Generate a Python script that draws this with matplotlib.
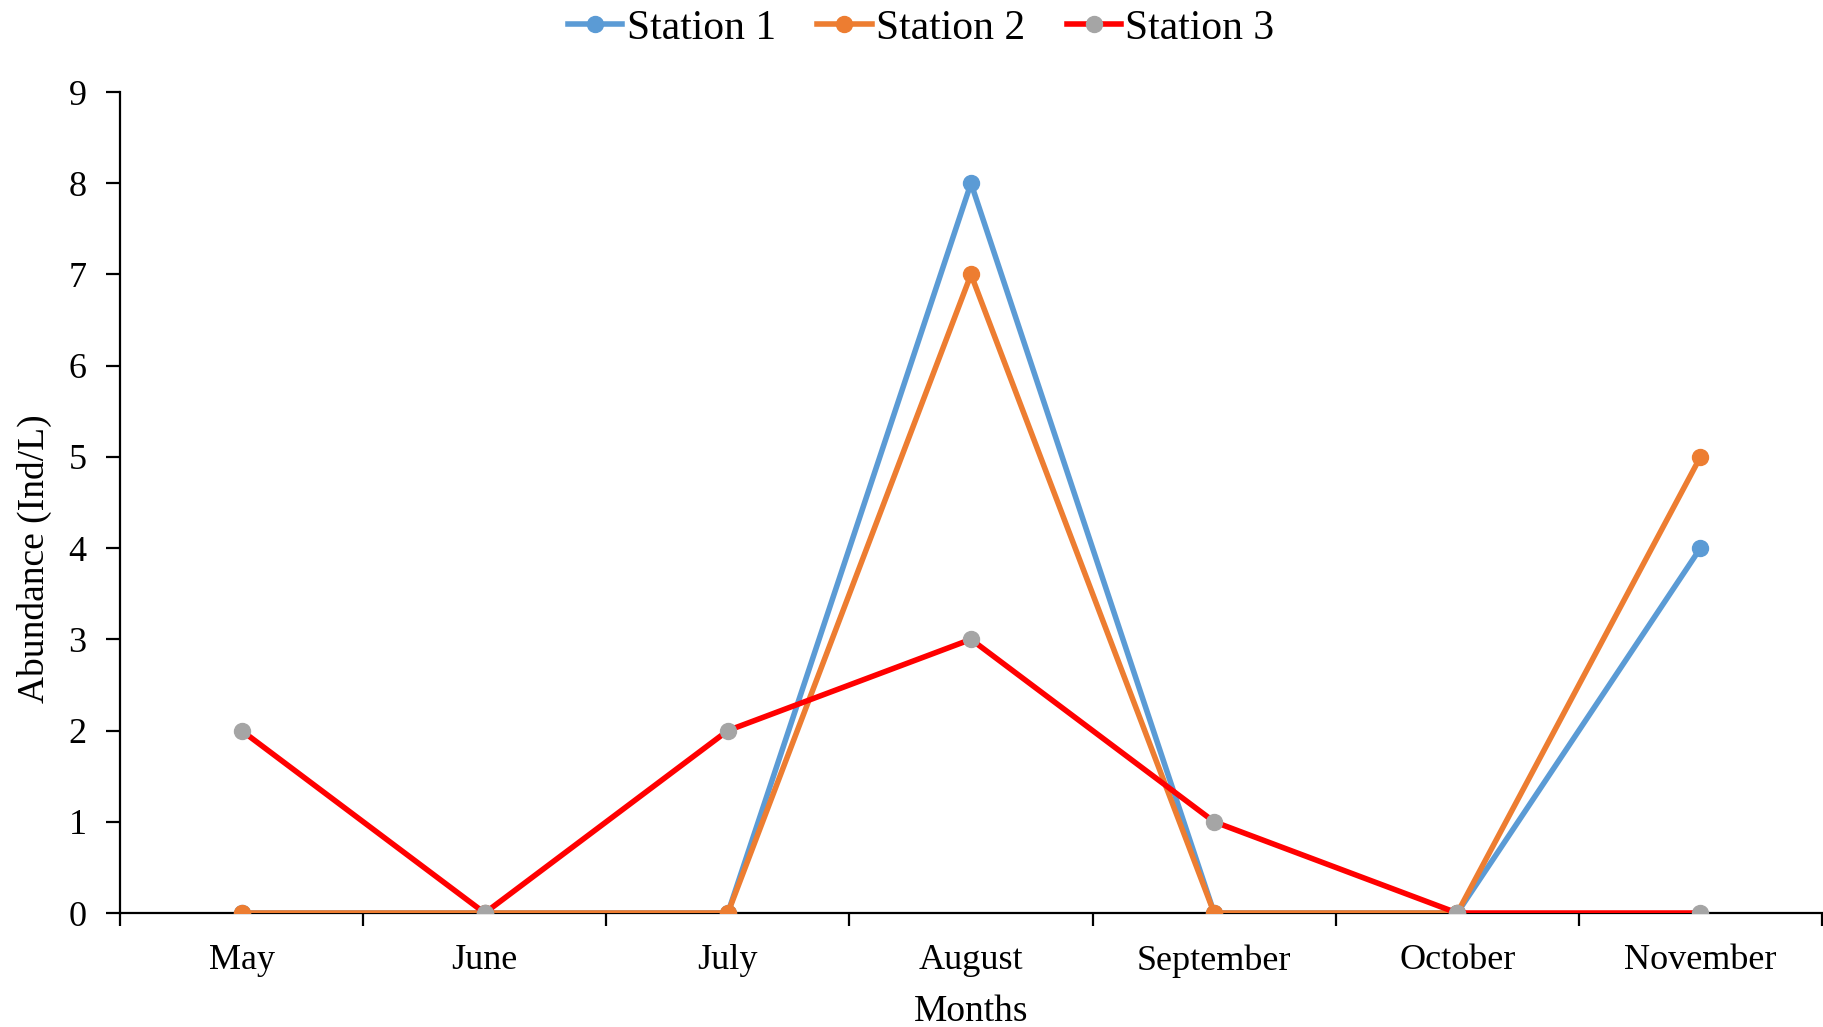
import matplotlib
matplotlib.use("Agg")
import matplotlib.pyplot as plt
from matplotlib.ticker import FixedLocator, NullFormatter

plt.rcParams['font.family'] = ['Liberation Serif', 'DejaVu Serif']

months = ["May", "June", "July", "August", "September", "October", "November"]
station1 = [0, 0, 0, 8, 0, 0, 4]
station2 = [0, 0, 0, 7, 0, 0, 5]
station3 = [2, 0, 2, 3, 1, 0, 0]
y_ticks = list(range(0, 10))

fig = plt.figure(figsize=(18.24, 10.27), dpi=100)
ax = fig.add_axes([0.0658, 0.111, 0.9331, 0.7994])

x = list(range(len(months)))
lw = 4.0
ms = 11.5
ax.plot(x, station1, color="#5B9BD5", lw=lw, marker="o", ms=ms,
        markerfacecolor="#5B9BD5", markeredgecolor="#5B9BD5", label="Station 1", zorder=3)
ax.plot(x, station2, color="#ED7D31", lw=lw, marker="o", ms=ms,
        markerfacecolor="#ED7D31", markeredgecolor="#ED7D31", label="Station 2", zorder=4)
ax.plot(x, station3, color="#FF0000", lw=lw, marker="o", ms=ms,
        markerfacecolor="#A5A5A5", markeredgecolor="#A5A5A5", label="Station 3", zorder=5)

ax.set_xlim(-0.5, len(months) - 0.5)
ax.set_ylim(0, 9)
ax.set_yticks(y_ticks)

# category labels centred, tick marks on category boundaries
ax.set_xticks(x)
ax.set_xticklabels(months)
ax.xaxis.set_minor_locator(FixedLocator([i - 0.5 for i in range(len(months) + 1)]))
ax.xaxis.set_minor_formatter(NullFormatter())
ax.tick_params(axis="x", which="major", length=0, pad=22.5, labelsize=26)
ax.tick_params(axis="x", which="minor", length=9, width=1.6, direction="out")
ax.tick_params(axis="y", length=10, width=1.6, direction="out", pad=14, labelsize=26)

for side in ("top", "right"):
    ax.spines[side].set_visible(False)
for side in ("left", "bottom"):
    ax.spines[side].set_linewidth(1.6)
    ax.spines[side].set_zorder(2)

ax.set_xlabel("Months", fontsize=27, labelpad=12)
ax.set_ylabel("Abundance (Ind/L)", fontsize=27)
ax.yaxis.set_label_coords(-0.040, 0.432)

fig.legend(loc="center", bbox_to_anchor=(0.505, 0.972), ncol=3, frameon=False,
           fontsize=30, handlelength=1.3, handletextpad=0.1, columnspacing=1.0,
           borderaxespad=0)

fig.savefig("out.png", dpi=100)
